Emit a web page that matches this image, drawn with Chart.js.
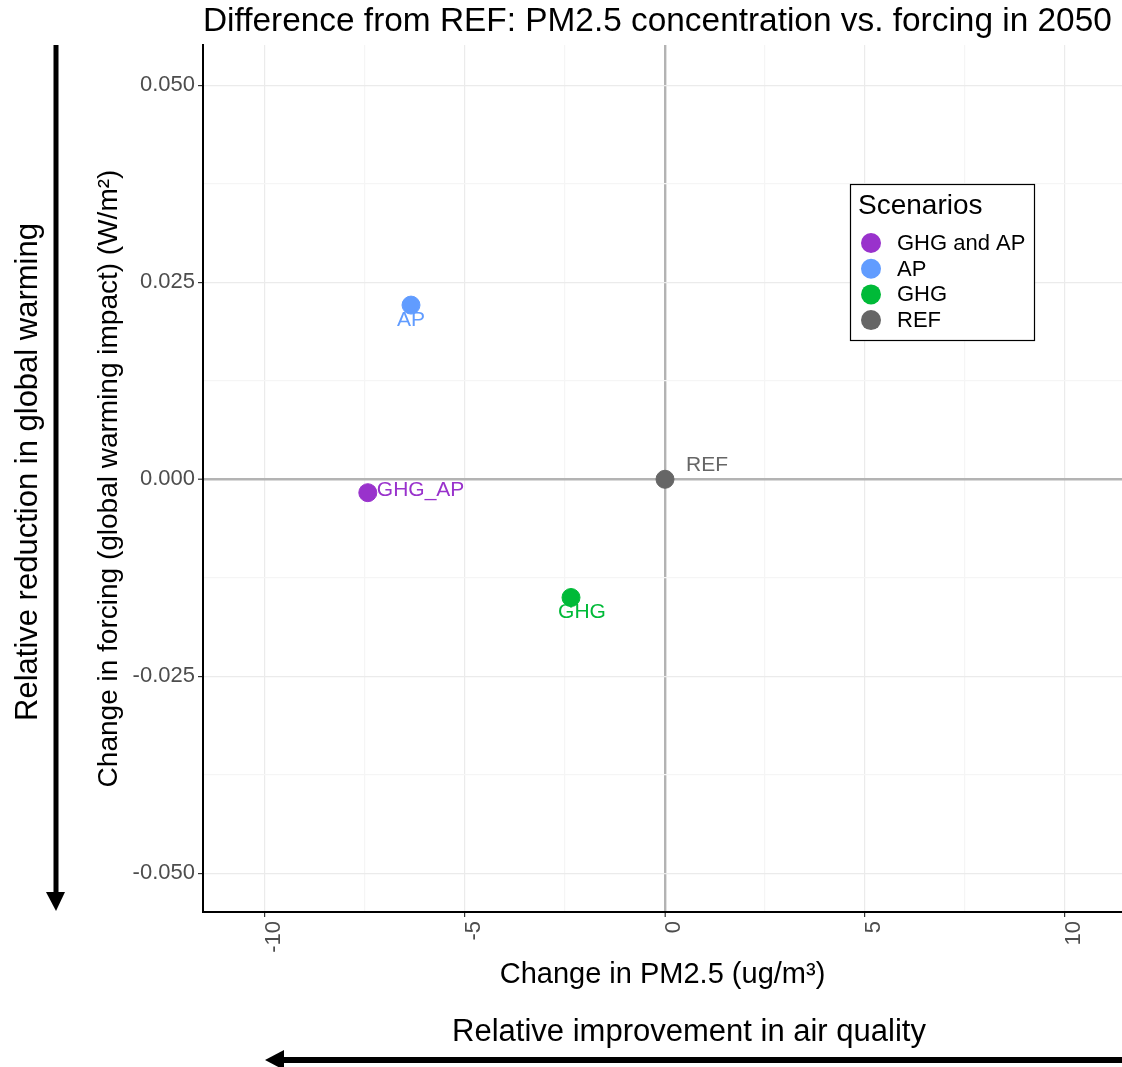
<!DOCTYPE html>
<html>
<head>
<meta charset="utf-8">
<script src="https://cdn.jsdelivr.net/npm/chart.js@4/dist/chart.umd.min.js"></script>
<style>
  html, body { margin: 0; padding: 0; background: #fff; }
  #wrap { width: 1122px; height: 1067px; }
</style>
</head>
<body>
<div id="wrap"><canvas id="pmChart" width="1122" height="1067"></canvas></div>
<script>
const scenarios = ["GHG and AP", "AP", "GHG", "REF"];
const pointLabels = ["GHG_AP", "AP", "GHG", "REF"];
const pm25Change = [-7.43, -6.35, -2.35, 0];
const forcingChange = [-0.0017, 0.0221, -0.0150, 0];
const colors = ["#9932CC", "#619CFF", "#00BA38", "#666666"];

const xTickValues = [-10, -7.5, -5, -2.5, 0, 2.5, 5, 7.5, 10];
const yTickValues = [-0.05, -0.0375, -0.025, -0.0125, 0, 0.0125, 0.025, 0.0375, 0.05];

const FONT = "'Liberation Sans', Arial, sans-serif";

// label offsets in pixels from each point (ggrepel-like placement)
const labelPlacement = [
  { dx: 9, dy: -2, align: "left" },
  { dx: 0, dy: 15, align: "center" },
  { dx: 11, dy: 15, align: "center" },
  { dx: 21, dy: -14, align: "left" }
];

function majorX(v) { return Math.abs(v % 5) < 1e-6; }
function majorY(v) { return Math.abs(v * 40 - Math.round(v * 40)) < 1e-6; }

function gridStyle(isMajor) {
  return {
    color: (c) => {
      const v = c.tick ? c.tick.value : null;
      if (v === null) return "#EBEBEB";
      if (Math.abs(v) < 1e-9) return "#B3B3B3";
      return isMajor(v) ? "#EBEBEB" : "#F5F5F5";
    },
    lineWidth: (c) => (c.tick && Math.abs(c.tick.value) < 1e-9 ? 2.4 : 1.2),
    tickColor: (c) => (c.tick && isMajor(c.tick.value) ? "#333333" : "rgba(0,0,0,0)"),
    tickWidth: 1.2,
    tickLength: 5,
    drawOnChartArea: true
  };
}

const extras = {
  id: "extras",
  afterDatasetsDraw(chart) {
    const ctx = chart.ctx;
    const xs = chart.scales.x, ys = chart.scales.y;
    ctx.save();
    // point labels
    ctx.font = "21px " + FONT;
    ctx.textBaseline = "middle";
    pointLabels.forEach((lab, i) => {
      const px = xs.getPixelForValue(pm25Change[i]);
      const py = ys.getPixelForValue(forcingChange[i]);
      const p = labelPlacement[i];
      ctx.fillStyle = colors[i];
      ctx.textAlign = p.align;
      ctx.fillText(lab, px + p.dx, py + p.dy);
    });

    // legend
    const lx = 850, ly = 184, lw = 184, lh = 156;
    ctx.fillStyle = "#fff";
    ctx.fillRect(lx, ly, lw, lh);
    ctx.strokeStyle = "#000";
    ctx.lineWidth = 1.2;
    ctx.strokeRect(lx + 0.5, ly + 0.5, lw, lh);
    ctx.fillStyle = "#000";
    ctx.textAlign = "left";
    ctx.font = "28px " + FONT;
    ctx.fillText("Scenarios", lx + 8, ly + 22);
    ctx.font = "22px " + FONT;
    scenarios.forEach((s, i) => {
      const yy = ly + 59 + i * 25.7;
      ctx.beginPath();
      ctx.arc(lx + 21, yy, 10, 0, Math.PI * 2);
      ctx.fillStyle = colors[i];
      ctx.fill();
      ctx.fillStyle = "#000";
      ctx.fillText(s, lx + 47, yy + 1);
    });
    ctx.restore();
  },
  afterDraw(chart) {
    const ctx = chart.ctx;
    const area = chart.chartArea;
    ctx.save();
    // title
    ctx.fillStyle = "#000";
    ctx.font = "33.4px " + FONT;
    ctx.textAlign = "left";
    ctx.textBaseline = "middle";
    ctx.fillText("Difference from REF: PM2.5 concentration vs. forcing in 2050", area.left, 22);

    // left arrow
    ctx.fillStyle = "#000";
    ctx.fillRect(53.5, area.top, 5, 850);
    ctx.beginPath();
    ctx.moveTo(46, 892);
    ctx.lineTo(65, 892);
    ctx.lineTo(56, 911);
    ctx.closePath();
    ctx.fill();

    // bottom arrow
    ctx.fillRect(282, 1057, 840, 6);
    ctx.beginPath();
    ctx.moveTo(284, 1050);
    ctx.lineTo(284, 1070);
    ctx.lineTo(265, 1060);
    ctx.closePath();
    ctx.fill();

    // outer texts
    ctx.font = "31px " + FONT;
    ctx.textAlign = "center";
    ctx.save();
    ctx.translate(28, 472);
    ctx.rotate(-Math.PI / 2);
    ctx.fillText("Relative reduction in global warming", 0, 0);
    ctx.restore();
    ctx.fillText("Relative improvement in air quality", 689, 1032);
    ctx.restore();
  }
};

new Chart(document.getElementById("pmChart").getContext("2d"), {
  type: "scatter",
  data: {
    datasets: scenarios.map((s, i) => ({
      label: s,
      data: [{ x: pm25Change[i], y: forcingChange[i] }],
      backgroundColor: colors[i],
      borderColor: colors[i],
      borderWidth: 1,
      pointRadius: 9,
      pointHoverRadius: 9
    }))
  },
  options: {
    responsive: false,
    animation: false,
    layout: { autoPadding: false, padding: { left: 80, top: 45, right: 0, bottom: 0 } },
    plugins: {
      legend: { display: false },
      tooltip: { enabled: false }
    },
    scales: {
      x: {
        type: "linear",
        min: -11.55,
        max: 11.425,
        afterBuildTicks: (s) => { s.ticks = xTickValues.map((v) => ({ value: v })); },
        afterFit: (s) => { s.height = 155; s.paddingLeft = 0; s.paddingRight = 0; },
        ticks: {
          minRotation: 90,
          maxRotation: 90,
          padding: 4,
          labelOffset: 9,
          color: "#4D4D4D",
          font: { family: FONT, size: 22 },
          callback: (v) => (majorX(v) ? String(v) : "")
        },
        grid: gridStyle(majorX),
        border: { display: true, color: "#000", width: 2 },
        title: {
          display: true,
          text: "Change in PM2.5 (ug/m³)",
          color: "#000",
          font: { family: FONT, size: 29 },
          padding: { top: 0, bottom: 75 }
        }
      },
      y: {
        type: "linear",
        min: -0.0549,
        max: 0.0551,
        afterBuildTicks: (s) => { s.ticks = yTickValues.map((v) => ({ value: v })); },
        afterFit: (s) => { s.width = 123; s.paddingTop = 0; s.paddingBottom = 0; },
        ticks: {
          padding: 3,
          color: "#4D4D4D",
          font: { family: FONT, size: 22 },
          callback: (v) => (majorY(v) ? v.toFixed(3) : "")
        },
        grid: gridStyle(majorY),
        border: { display: true, color: "#000", width: 2 },
        title: {
          display: true,
          text: "Change in forcing (global warming impact) (W/m²)",
          color: "#000",
          font: { family: FONT, size: 28 },
          padding: { top: 12, bottom: 0 }
        }
      }
    }
  },
  plugins: [extras]
});
</script>
</body>
</html>
